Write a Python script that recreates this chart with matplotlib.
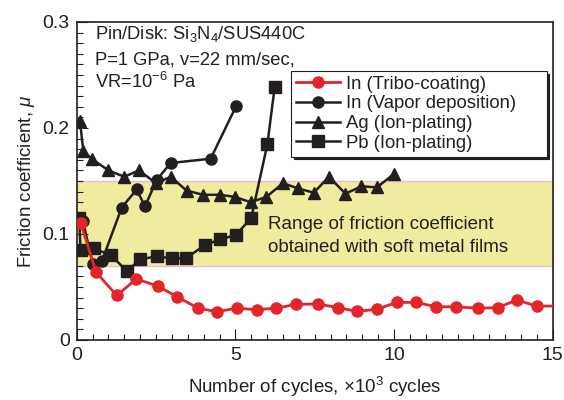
import numpy as np
import matplotlib
matplotlib.use('Agg')
import matplotlib.pyplot as plt
from matplotlib.ticker import MultipleLocator

plt.rcParams['font.family'] = ['Liberation Sans', 'DejaVu Sans']
plt.rcParams['mathtext.fontset'] = 'custom'
plt.rcParams['mathtext.rm'] = 'Liberation Sans'
plt.rcParams['mathtext.it'] = 'Liberation Sans:italic'

# Datos: ciclos (x10^3) y coeficiente de fricción
tribo_x = [0.13, 0.61, 1.26, 1.88, 2.55, 3.17, 3.83, 4.42, 5.04, 5.67, 6.29, 6.9,
           7.6, 8.23, 8.84, 9.46, 10.08, 10.7, 11.32, 11.94, 12.63, 13.26, 13.87, 14.5, 15.0]
tribo_y = [0.110, 0.064, 0.042, 0.0575, 0.051, 0.0406, 0.030, 0.0267, 0.030, 0.0286, 0.030, 0.0336,
           0.034, 0.0305, 0.027, 0.029, 0.0355, 0.0355, 0.0314, 0.0314, 0.030, 0.0305, 0.0377, 0.032, 0.032]

vapor_x = [0.2, 0.5, 0.8, 1.42, 1.89, 2.15, 2.52, 2.96, 4.22, 5.03]
vapor_y = [0.112, 0.072, 0.075, 0.125, 0.142, 0.126, 0.151, 0.167, 0.171, 0.221]

ag_x = [0.1, 0.21, 0.47, 1.0, 1.5, 1.96, 2.5, 2.96, 3.46, 3.98, 4.51, 4.98, 5.48, 5.98,
        6.5, 6.97, 7.47, 7.95, 8.47, 8.97, 9.46, 10.01]
ag_y = [0.207, 0.178, 0.171, 0.160, 0.154, 0.160, 0.148, 0.154, 0.141, 0.137, 0.137, 0.135,
        0.130, 0.135, 0.148, 0.143, 0.139, 0.154, 0.138, 0.145, 0.144, 0.157]

pb_x = [0.08, 0.12, 0.53, 1.08, 1.58, 2.0, 2.52, 2.99, 3.44, 4.04, 4.53, 5.01, 5.5, 6.01, 6.24]
pb_y = [0.115, 0.085, 0.0865, 0.080, 0.065, 0.076, 0.079, 0.077, 0.077, 0.0896, 0.095, 0.099,
        0.115, 0.185, 0.239]

band_low, band_high = 0.07, 0.15

fig = plt.figure(figsize=(5.64, 4.0), dpi=100)
ax = fig.add_axes([0.136, 0.15, 0.844, 0.795])

# Banda del rango de fricción de películas metálicas blandas
ax.axhspan(band_low, band_high, facecolor='#efeca0', edgecolor='none', zorder=0)
ax.axhline(band_low, color='#e6bcd8', lw=1.0, zorder=0.5)
ax.axhline(band_high, color='#e6bcd8', lw=1.0, zorder=0.5)

red = '#e3242b'
ink = '#231f20'
ax.plot(tribo_x, tribo_y, '-o', color=red, ms=8, lw=2, markevery=list(range(len(tribo_x) - 1)),
        label='In (Tribo-coating)', zorder=5)
ax.plot(vapor_x, vapor_y, '-o', color=ink, ms=8, lw=1.8,
        label='In (Vapor deposition)', zorder=3)
ax.plot(ag_x, ag_y, '-^', color=ink, ms=8.5, lw=1.8,
        label='Ag (Ion-plating)', zorder=3)
ax.plot(pb_x, pb_y, '-s', color=ink, ms=9, lw=1.8,
        label='Pb (Ion-plating)', zorder=4)

ax.set_xlim(0, 15)
ax.set_ylim(0, 0.3)
ax.xaxis.set_major_locator(MultipleLocator(5))
ax.xaxis.set_minor_locator(MultipleLocator(0.5))
ax.yaxis.set_minor_locator(MultipleLocator(0.01))
ax.set_yticks([0, 0.1, 0.2, 0.3], ['0', '0.1', '0.2', '0.3'])
ax.tick_params(which='both', direction='in', top=False, right=False,
               labelsize=14, colors=ink, width=0.8)
ax.tick_params(which='major', length=8, pad=5)
ax.tick_params(which='minor', length=4.5)
for s in ax.spines.values():
    s.set_linewidth(1.2)
    s.set_color(ink)

ax.set_xlabel(r'Number of cycles, $\times$10$^3$ cycles', fontsize=13.5, color=ink, labelpad=8)
ax.set_ylabel(r'Friction coefficient, $\mathit{\mu}$', fontsize=13.5, color=ink, labelpad=4)

# Condiciones del ensayo
ax.text(0.58, 0.284, r'Pin/Disk: Si$_3$N$_4$/SUS440C', fontsize=13.2, color=ink, va='baseline')
ax.text(0.58, 0.260, 'P=1 GPa, v=22 mm/sec,', fontsize=13.2, color=ink, va='baseline')
ax.text(0.58, 0.2375, r'VR=10$^{-6}$ Pa', fontsize=13.2, color=ink, va='baseline')

ax.text(6.02, 0.1047, 'Range of friction coefficient', fontsize=13.5, color=ink, va='baseline')
ax.text(6.02, 0.083, 'obtained with soft metal films', fontsize=13.5, color=ink, va='baseline')

leg = ax.legend(loc='upper left', bbox_to_anchor=(0.450, 0.846, 0.537, 0.0), mode='expand',
                fontsize=13.3, frameon=True, fancybox=False,
                shadow={'color': ink, 'alpha': 1},
                handlelength=2.4, handletextpad=0.32, labelspacing=0.15,
                borderpad=0.25, borderaxespad=0)
leg.get_frame().set_edgecolor(ink)
leg.get_frame().set_linewidth(0.8)
for t in leg.get_texts():
    t.set_color(ink)

fig.savefig('out.png', dpi=100)
